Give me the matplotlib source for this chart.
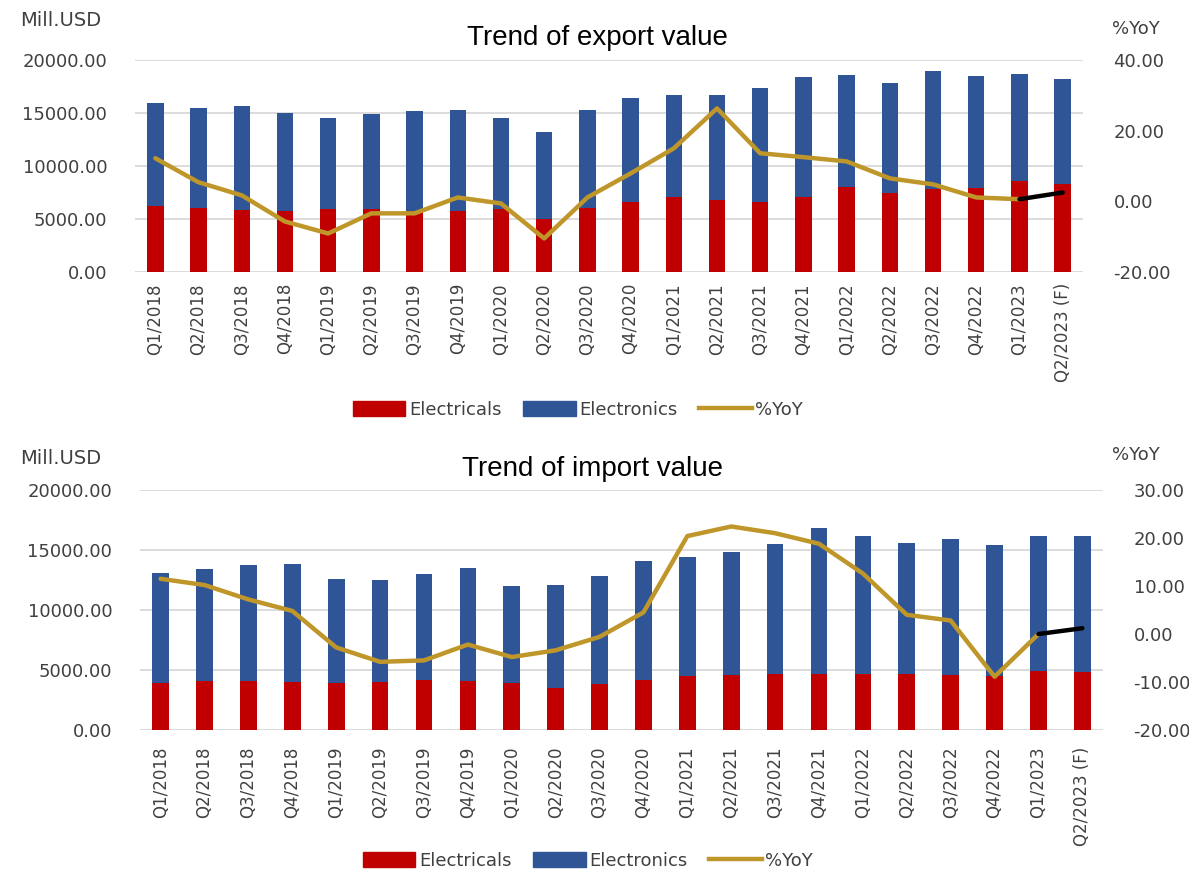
import matplotlib
matplotlib.use("Agg")
import matplotlib.pyplot as plt
from matplotlib.patches import Patch
from matplotlib.lines import Line2D
import numpy as np

quarters = ["Q1/2018", "Q2/2018", "Q3/2018", "Q4/2018", "Q1/2019", "Q2/2019", "Q3/2019",
            "Q4/2019", "Q1/2020", "Q2/2020", "Q3/2020", "Q4/2020", "Q1/2021", "Q2/2021",
            "Q3/2021", "Q4/2021", "Q1/2022", "Q2/2022", "Q3/2022", "Q4/2022", "Q1/2023",
            "Q2/2023 (F)"]

# Export (Mill. USD)
exp_total = [15900, 15450, 15700, 14980, 14500, 14880, 15170, 15260, 14500, 13180, 15260,
             16400, 16680, 16700, 17350, 18390, 18580, 17820, 18960, 18480, 18670, 18200]
exp_electricals = [6250, 6070, 5880, 5780, 5970, 5970, 5780, 5780, 5970, 5020, 6070,
                   6640, 7110, 6820, 6640, 7110, 8060, 7490, 7870, 7960, 8630, 8340]
exp_yoy = [12.2, 5.4, 1.7, -5.7, -9.1, -3.4, -3.4, 1.1, -0.6, -10.5, 1.1,
           7.9, 15.0, 26.3, 13.6, 12.5, 11.3, 6.5, 4.8, 1.1, 0.6, 2.5]

# Import (Mill. USD)
imp_total = [13100, 13400, 13750, 13800, 12600, 12500, 13000, 13500, 12000, 12100, 12800,
             14100, 14400, 14800, 15500, 16800, 16200, 15600, 15900, 15400, 16200, 16200]
imp_electricals = [3900, 4050, 4100, 4000, 3900, 4000, 4200, 4100, 3900, 3500, 3800,
                   4200, 4500, 4600, 4700, 4700, 4700, 4700, 4600, 4500, 4900, 4800]
imp_yoy = [11.5, 10.2, 7.2, 4.8, -2.8, -5.8, -5.5, -2.2, -4.8, -3.4, -0.6,
           4.5, 20.4, 22.4, 21.0, 18.8, 12.6, 4.0, 2.8, -8.9, 0.0, 1.2]

exp_electronics = [t - e for t, e in zip(exp_total, exp_electricals)]
imp_electronics = [t - e for t, e in zip(imp_total, imp_electricals)]

RED = "#C00000"
BLUE = "#2F5597"
GOLD = "#BF962A"
GRID = "#D9D9D9"
TXT = "#404040"
FONT = "DejaVu Sans"

W, H = 1189, 877
fig = plt.figure(figsize=(W / 100, H / 100), dpi=100)


def fx(x):
    return x / W


def fy(y):
    return 1 - y / H


def draw(box, elec, elecn, yoy, y2lim, y2ticks, title, title_xy, mill_y, yoy_y,
         legend_xy, xpad):
    l, t, r, b = box
    ax = fig.add_axes([fx(l), fy(b), fx(r) - fx(l), fy(t) - fy(b)])
    x = np.arange(len(quarters))
    ax.bar(x, elec, width=0.38, color=RED, zorder=2)
    ax.bar(x, elecn, width=0.38, bottom=elec, color=BLUE, zorder=2)
    ax.set_ylim(0, 20000)
    yt = [0, 5000, 10000, 15000, 20000]
    ax.set_yticks(yt)
    ax.set_yticklabels([f"{v:.2f}" for v in yt], fontsize=13, color=TXT, family=FONT)
    ax.set_xlim(-0.47, len(quarters) - 0.53)
    ax.set_xticks(x)
    ax.set_xticklabels(quarters, rotation=90, fontsize=12, color=TXT, family=FONT)
    ax.grid(axis="y", color=GRID, linewidth=1.3, zorder=0)
    ax.set_axisbelow(True)
    for s in ax.spines.values():
        s.set_visible(False)
    ax.tick_params(axis="y", length=0, pad=20)
    ax.tick_params(axis="x", length=0, pad=xpad)

    ax2 = ax.twinx()
    ax2.plot(x[:-1], yoy[:-1], color=GOLD, linewidth=3.2, zorder=3, solid_capstyle="round",
             solid_joinstyle="round")
    ax2.plot(x[-2:], yoy[-2:], color="black", linewidth=3.2, zorder=3,
             solid_capstyle="round")
    ax2.set_ylim(*y2lim)
    ax2.set_yticks(y2ticks)
    ax2.set_yticklabels([f"{v:.2f}" for v in y2ticks], fontsize=13, color=TXT, family=FONT)
    for s in ax2.spines.values():
        s.set_visible(False)
    ax2.tick_params(length=0, pad=22)

    fig.text(fx(title_xy[0]), fy(title_xy[1]), title, fontsize=20, family="Liberation Sans",
             color="black", ha="center", va="center")
    fig.text(fx(20), fy(mill_y), "Mill.USD", fontsize=14, color=TXT,
             family=FONT, ha="left", va="center")
    fig.text(fx(1112), fy(yoy_y), "%YoY", fontsize=13, color=TXT,
             family=FONT, ha="left", va="center")

    handles = [Patch(facecolor=RED, edgecolor=RED),
               Patch(facecolor=BLUE, edgecolor=BLUE),
               Line2D([0], [0], color=GOLD, linewidth=3.2)]
    fig.legend(handles, ["Electricals", "Electronics", "%YoY"], loc="center",
               bbox_to_anchor=(fx(legend_xy[0]), fy(legend_xy[1])), ncol=3, frameon=False,
               prop={"family": FONT, "size": 13}, handlelength=2.9,
               handleheight=0.9, handletextpad=0.2, columnspacing=1.2,
               labelcolor=TXT, borderpad=0)


draw((135, 60, 1083, 272), exp_electricals, exp_electronics, exp_yoy,
     (-20, 40), [-20, 0, 20, 40], "Trend of export value", (597, 38), 20, 29, (578, 410), 8)
draw((140, 490, 1103, 730), imp_electricals, imp_electronics, imp_yoy,
     (-20, 30), [-20, -10, 0, 10, 20, 30], "Trend of import value", (592, 469), 458, 455,
     (588, 861), 12)

fig.savefig("out.png", dpi=100, facecolor="white")
